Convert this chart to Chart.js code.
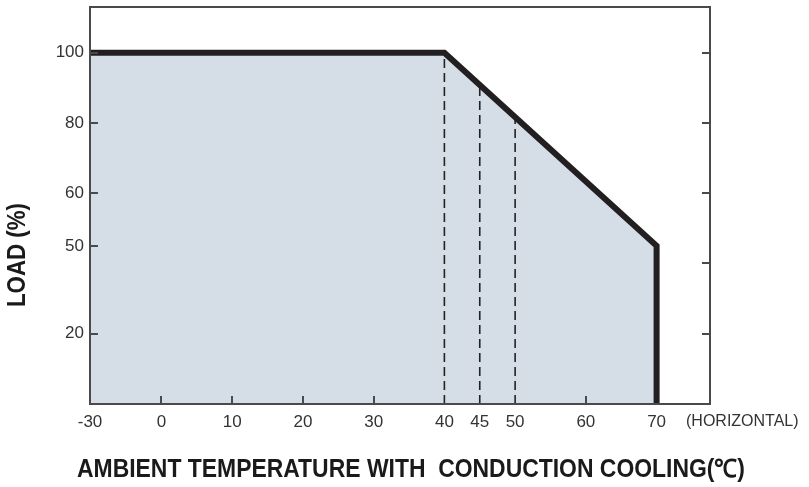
<!DOCTYPE html>
<html>
<head>
<meta charset="utf-8">
<script src="https://cdn.jsdelivr.net/npm/chart.js@4.4.1/dist/chart.umd.min.js"></script>
<style>
  html, body { margin: 0; padding: 0; background: #fff; }
  #wrap { width: 809px; height: 487px; }
</style>
</head>
<body>
<div id="wrap"><canvas id="derating" width="809" height="487"></canvas></div>
<script>
// axis positions (the drawing is not to scale: "-30" sits where -10 would, "50" sits near 45)
var xTickValues = [-10.1, 0, 10, 20, 30, 40, 45, 50, 60, 70];
var xTickLabels = ['-30', '0', '10', '20', '30', '40', '45', '50', '60', '70'];
var yTickValues = [20, 45, 60, 80, 100];
var yTickLabels = ['20', '50', '60', '80', '100'];
var rightTickValues = [20, 40, 60, 80, 100];
var bottomTickValues = [0, 10, 20, 30, 60];

// derating curve
var curveTemp = [-10.1, 40, 70, 70];
var curveLoad = [100, 100, 45, 0];

// dashed markers
var markerTemp = [40, 45, 50];
var markerLoad = [100, 91, 82];

var xTitle = 'AMBIENT TEMPERATURE WITH  CONDUCTION COOLING(℃)';
var yTitle = 'LOAD (%)';
var xNote = '(HORIZONTAL)';

var X_MIN = -10.1, X_MAX = 77.55, Y_MIN = 0, Y_MAX = 113;

var ink = '#231f20';
var frame = '#4a4a4a';
var labelColor = '#333333';
var labelFont = { family: '"Liberation Sans", Arial, sans-serif', size: 17 };

function pts(xs, ys) {
  var out = [];
  for (var i = 0; i < xs.length; i++) out.push({ x: xs[i], y: ys[i] });
  return out;
}

var datasets = [{
  data: pts(curveTemp, curveLoad),
  borderColor: ink,
  backgroundColor: '#d5dde7',
  borderWidth: 6,
  borderJoinStyle: 'miter',
  borderCapStyle: 'butt',
  pointRadius: 0,
  fill: 'origin',
  tension: 0
}];
markerTemp.forEach(function (t, i) {
  datasets.push({
    data: pts([t, t], [0, markerLoad[i]]),
    borderColor: '#222222',
    borderWidth: 1.6,
    borderDash: [9, 5],
    pointRadius: 0,
    fill: false
  });
});

var framePlugin = {
  id: 'frame',
  afterDatasetsDraw: function (chart) {
    var ctx = chart.ctx;
    var a = chart.chartArea;
    var xs = chart.scales.x, ys = chart.scales.y;
    ctx.save();
    ctx.lineWidth = 2;
    ctx.strokeStyle = frame;
    ctx.strokeRect(a.left, a.top, a.right - a.left, a.bottom - a.top);

    // inward tick marks
    ctx.beginPath();
    yTickValues.forEach(function (v) {
      var py = Math.round(ys.getPixelForValue(v));
      ctx.moveTo(a.left, py); ctx.lineTo(a.left + 8, py);
    });
    rightTickValues.forEach(function (v) {
      var py = Math.round(ys.getPixelForValue(v));
      ctx.moveTo(a.right, py); ctx.lineTo(a.right - 8, py);
    });
    bottomTickValues.forEach(function (v) {
      var px = Math.round(xs.getPixelForValue(v));
      ctx.moveTo(px, a.bottom); ctx.lineTo(px, a.bottom - 8);
    });
    ctx.stroke();

    ctx.fillStyle = labelColor;
    ctx.font = '16px "Liberation Sans", Arial, sans-serif';
    ctx.textAlign = 'left';
    ctx.textBaseline = 'middle';
    ctx.fillText(xNote, 686, 422);

    // axis titles (condensed bold, squeezed by maxWidth)
    ctx.fillStyle = '#1a1a1a';
    ctx.font = 'bold 25px "Liberation Sans", Arial, sans-serif';
    ctx.textAlign = 'center';
    ctx.fillText(xTitle, 411, 470, 668);

    ctx.translate(18, 255);
    ctx.rotate(-Math.PI / 2);
    ctx.fillText(yTitle, 0, 0, 104);
    ctx.restore();
  }
};

new Chart(document.getElementById('derating'), {
  type: 'line',
  data: { datasets: datasets },
  plugins: [framePlugin],
  options: {
    responsive: false,
    animation: false,
    events: [],
    layout: { padding: { left: 0, top: 7, right: 99, bottom: 0 } },
    plugins: {
      legend: { display: false },
      tooltip: { enabled: false },
      filler: { drawTime: 'beforeDatasetsDraw' }
    },
    scales: {
      x: {
        type: 'linear',
        min: X_MIN,
        max: X_MAX,
        afterBuildTicks: function (s) {
          s.ticks = xTickValues.map(function (v) { return { value: v }; });
        },
        afterFit: function (s) {
          s.height = 83;
          s.paddingLeft = 0;
          s.paddingRight = 0;
        },
        grid: { display: false, drawTicks: false },
        border: { display: false },
        ticks: {
          autoSkip: false,
          maxRotation: 0,
          padding: 8,
          color: labelColor,
          font: labelFont,
          callback: function (v) {
            var i = xTickValues.indexOf(v);
            return i < 0 ? '' : xTickLabels[i];
          }
        }
      },
      y: {
        type: 'linear',
        min: Y_MIN,
        max: Y_MAX,
        afterBuildTicks: function (s) {
          s.ticks = yTickValues.map(function (v) { return { value: v }; });
        },
        afterFit: function (s) {
          s.width = 90;
          s.paddingTop = 0;
          s.paddingBottom = 0;
        },
        grid: { display: false, drawTicks: false },
        border: { display: false },
        ticks: {
          autoSkip: false,
          padding: 6,
          color: labelColor,
          font: labelFont,
          callback: function (v) {
            var i = yTickValues.indexOf(v);
            return i < 0 ? '' : yTickLabels[i];
          }
        }
      }
    }
  }
});
</script>
</body>
</html>
